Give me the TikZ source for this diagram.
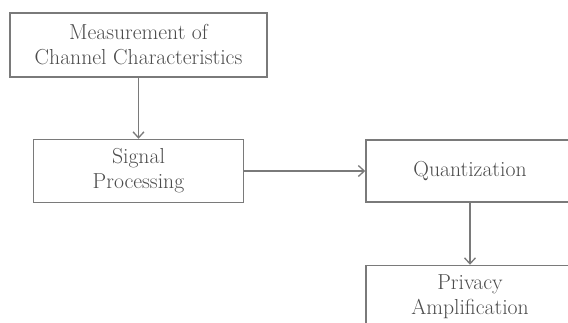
\documentclass[tikz,border=0pt]{standalone}
\usetikzlibrary{positioning,arrows.meta}
\definecolor{boxline}{HTML}{7A7A7A}
\definecolor{boxtext}{HTML}{4C4C4C}
\tikzstyle{block} = [rectangle, draw=boxline, line width=1.5pt, text=boxtext,
    align=center, inner sep=0pt, font=\fontsize{21.7}{25}\selectfont]
\tikzstyle{arrow} = [draw=boxline, line width=1.3pt, -{Straight Barb[length=6pt,width=11pt]}]

\begin{document}
\begin{tikzpicture}[x=1pt, y=-1pt]
    \clip (0,0) rectangle (568,322);
    % Place nodes
    \node [block, minimum width=257pt, minimum height=64pt] (measure) at (138.5,45) {Measurement of\\Channel Characteristics};
    \node [block, minimum width=210pt, minimum height=63pt, below=61pt of measure] (sigproc) {Signal\\Processing};
    \node [block, minimum width=208pt, minimum height=62pt, right=121pt of sigproc] (quant) {Quantization};
    \node [block, minimum width=208pt, minimum height=63pt, below=62pt of quant] (privamp) {Privacy\\Amplification};
    % Draw edges
    \draw [arrow] (measure) -- (sigproc);
    \draw [arrow] (sigproc) -- (quant);
    \draw [arrow] (quant) -- (privamp);
\end{tikzpicture}
\end{document}
